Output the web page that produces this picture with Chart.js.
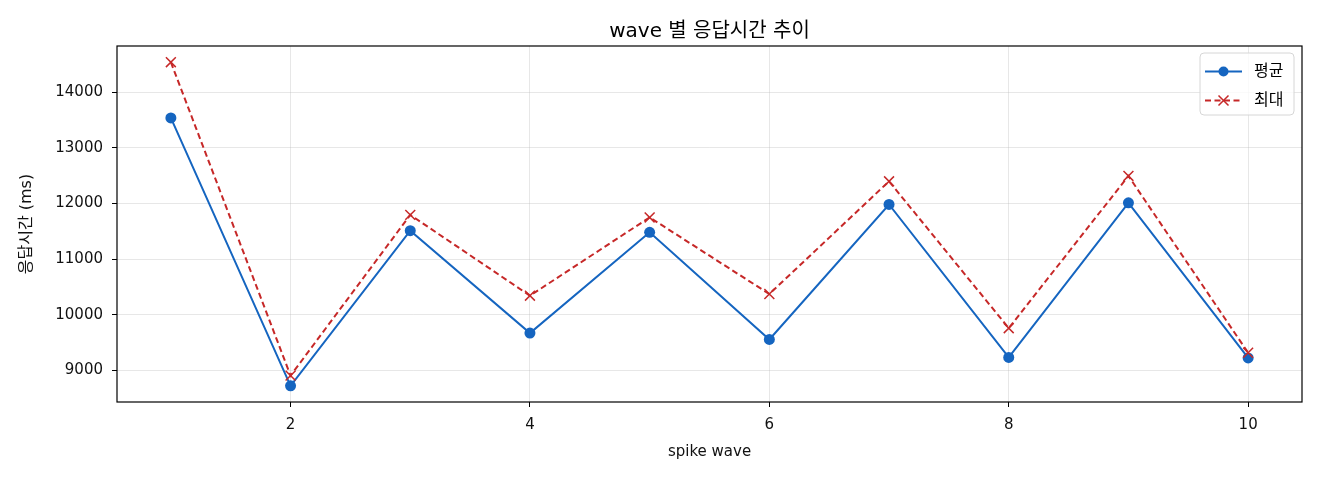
<!DOCTYPE html>
<html>
<head>
<meta charset="utf-8">
<script src="https://cdn.jsdelivr.net/npm/chart.js@4.4.1/dist/chart.umd.min.js"></script>
<style>
  html, body { margin: 0; padding: 0; background: #fff; }
  #wrap { width: 1320px; height: 480px; }
</style>
</head>
<body>
<div id="wrap"><canvas id="c" width="1320" height="480"></canvas></div>
<script>
// wave 별 응답시간 추이 - mean / max response time per spike wave

var chartTitle = 'wave 별 응답시간 추이';
var waves = [1, 2, 3, 4, 5, 6, 7, 8, 9, 10];
var meanMs = [13536, 8727, 11512, 9673, 11482, 9559, 11982, 9237, 12012, 9227];
var maxMs = [14536, 8910, 11795, 10345, 11750, 10375, 12398, 9762, 12494, 9321];
var xTicks = [2, 4, 6, 8, 10];
var yTicks = [9000, 10000, 11000, 12000, 13000, 14000];

var FONT = '"DejaVu Sans", "Noto Sans CJK KR", sans-serif';
var BLUE = '#1565C0';
var RED = '#C62828';

// matplotlib-like 5% margins
function padRange(vals) {
  var lo = Math.min.apply(null, vals), hi = Math.max.apply(null, vals);
  var m = (hi - lo) * 0.05;
  return [lo - m, hi + m];
}
var xr = padRange(waves);
var yr = padRange(meanMs.concat(maxMs));

function toPoints(ys) {
  return waves.map(function (x, i) { return { x: x, y: ys[i] }; });
}

// Full frame around the plot area, title centred over it
var framePlugin = {
  id: 'frame',
  afterDatasetsDraw: function (chart) {
    var a = chart.chartArea, ctx = chart.ctx;
    ctx.save();
    ctx.strokeStyle = '#000';
    ctx.lineWidth = 1.2;
    ctx.strokeRect(a.left, a.top, a.right - a.left, a.bottom - a.top);
    ctx.fillStyle = '#000';
    ctx.font = '20px ' + FONT;
    ctx.textAlign = 'center';
    ctx.textBaseline = 'middle';
    ctx.fillText(chartTitle, (a.left + a.right) / 2, a.top - 14);
    ctx.restore();
  }
};

function drawMarker(ctx, style, x, y, r, color) {
  ctx.save();
  if (style === 'circle') {
    ctx.fillStyle = color;
    ctx.beginPath();
    ctx.arc(x, y, r, 0, Math.PI * 2);
    ctx.fill();
  } else {
    ctx.strokeStyle = color;
    ctx.lineWidth = 1.5;
    ctx.setLineDash([]);
    ctx.beginPath();
    ctx.moveTo(x - r, y - r); ctx.lineTo(x + r, y + r);
    ctx.moveTo(x + r, y - r); ctx.lineTo(x - r, y + r);
    ctx.stroke();
  }
  ctx.restore();
}

// Boxed legend in the upper right, drawn from the datasets
var boxLegendPlugin = {
  id: 'boxLegend',
  afterDraw: function (chart) {
    var a = chart.chartArea, ctx = chart.ctx;
    var bw = 94, bh = 62;
    var bx = a.right - 8 - bw, by = a.top + 7;
    ctx.save();
    ctx.beginPath();
    ctx.roundRect(bx, by, bw, bh, 4);
    ctx.fillStyle = 'rgba(255,255,255,0.8)';
    ctx.fill();
    ctx.strokeStyle = '#d6d6d6';
    ctx.lineWidth = 1;
    ctx.stroke();
    chart.data.datasets.forEach(function (ds, i) {
      var y = by + 18.5 + i * 29;
      ctx.strokeStyle = ds.borderColor;
      ctx.lineWidth = ds.borderWidth;
      ctx.setLineDash(ds.borderDash || []);
      ctx.beginPath();
      ctx.moveTo(bx + 5, y);
      ctx.lineTo(bx + 42, y);
      ctx.stroke();
      ctx.setLineDash([]);
      drawMarker(ctx, ds.pointStyle === 'circle' ? 'circle' : 'cross', bx + 23.5, y, 5, ds.borderColor);
      ctx.fillStyle = '#000';
      ctx.font = '16px ' + FONT;
      ctx.textBaseline = 'middle';
      ctx.textAlign = 'left';
      ctx.fillText(ds.label, bx + 54, y);
    });
    ctx.restore();
  }
};

function plainTick(v) { return String(v); }

new Chart(document.getElementById('c').getContext('2d'), {
  type: 'line',
  data: {
    datasets: [
      {
        label: '평균',
        data: toPoints(meanMs),
        borderColor: BLUE,
        backgroundColor: BLUE,
        borderWidth: 2,
        pointStyle: 'circle',
        pointRadius: 5.5,
        pointBorderWidth: 0,
        pointBackgroundColor: BLUE,
        tension: 0,
        order: 2
      },
      {
        label: '최대',
        data: toPoints(maxMs),
        borderColor: RED,
        backgroundColor: RED,
        borderWidth: 2,
        borderDash: [6, 3.5],
        pointStyle: 'crossRot',
        pointRadius: 7,
        pointBorderWidth: 1.5,
        pointBorderColor: RED,
        tension: 0,
        order: 1
      }
    ]
  },
  options: {
    responsive: false,
    animation: false,
    devicePixelRatio: 1,
    layout: { padding: { left: 0, right: 18, top: 46, bottom: 0 } },
    scales: {
      x: {
        type: 'linear',
        min: xr[0],
        max: xr[1],
        afterBuildTicks: function (s) { s.ticks = xTicks.map(function (v) { return { value: v }; }); },
        afterFit: function (s) { s.height = 78; },
        grid: { color: 'rgba(176,176,176,0.3)', tickColor: '#000', tickLength: 5, lineWidth: 1 },
        border: { display: false },
        ticks: { color: '#111', font: { family: FONT, size: 15 }, padding: 9, maxRotation: 0, callback: plainTick },
        title: { display: true, text: 'spike wave', color: '#111', font: { family: FONT, size: 15 }, padding: 19 }
      },
      y: {
        type: 'linear',
        min: yr[0],
        max: yr[1],
        afterBuildTicks: function (s) { s.ticks = yTicks.map(function (v) { return { value: v }; }); },
        afterFit: function (s) { s.width = 117; },
        grid: { color: 'rgba(176,176,176,0.3)', tickColor: '#000', tickLength: 5, lineWidth: 1 },
        border: { display: false },
        ticks: { color: '#111', font: { family: FONT, size: 15 }, padding: 9, callback: plainTick },
        title: { display: true, text: '응답시간 (ms)', color: '#111', font: { family: FONT, size: 16 }, padding: 17 }
      }
    },
    plugins: {
      legend: { display: false },
      tooltip: { enabled: false },
      title: { display: false }
    }
  },
  plugins: [framePlugin, boxLegendPlugin]
});
</script>
</body>
</html>
